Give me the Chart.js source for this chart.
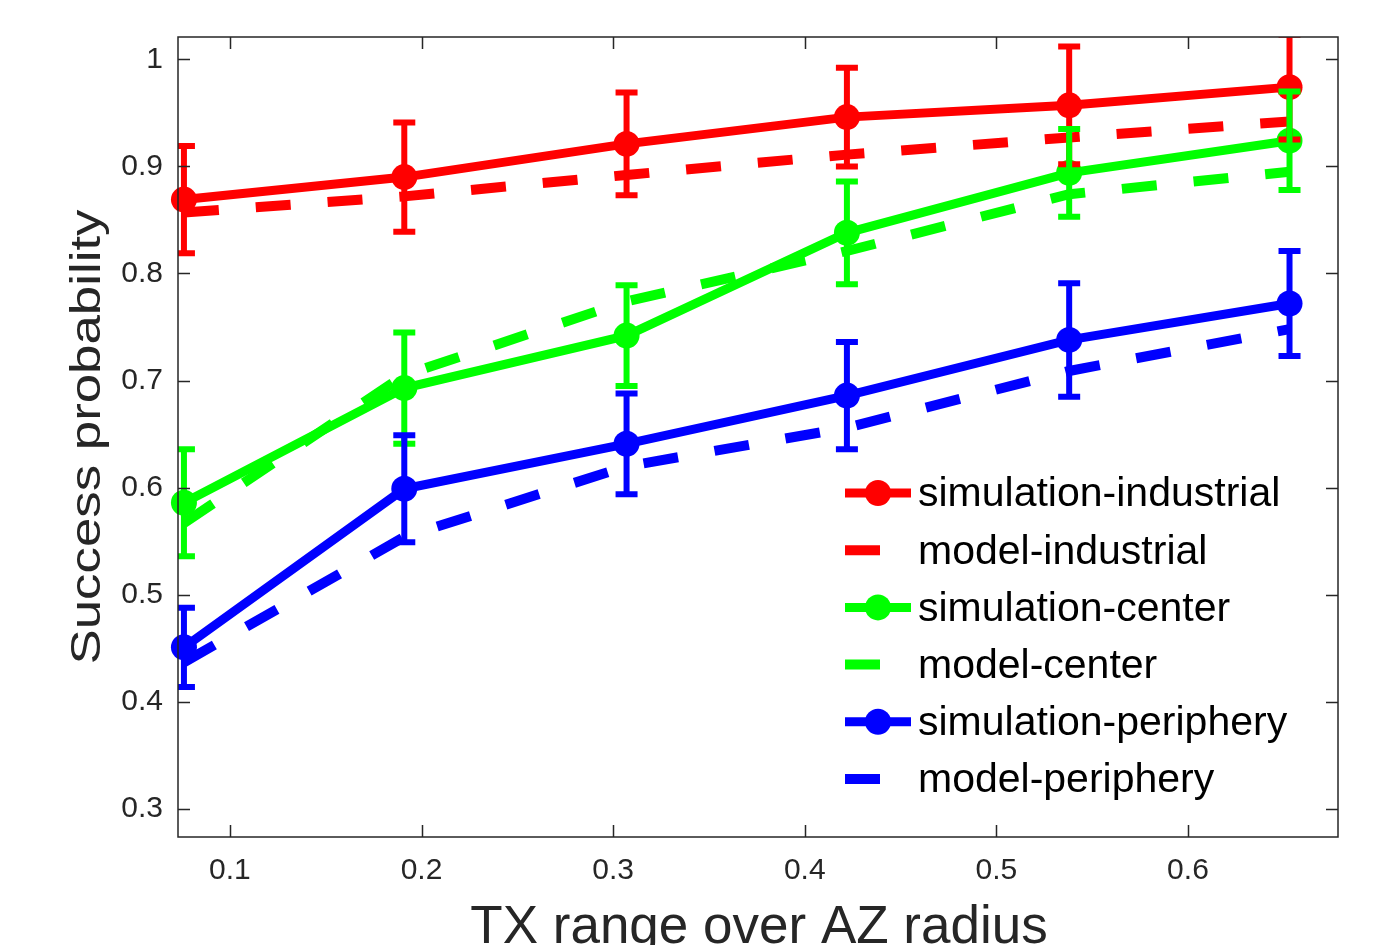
<!DOCTYPE html>
<html>
<head>
<meta charset="utf-8">
<script src="https://cdn.jsdelivr.net/npm/chart.js@4.4.1/dist/chart.umd.min.js"></script>
<style>
  html, body { margin: 0; padding: 0; background: #fff; overflow: hidden; }
  #wrap { width: 1385px; height: 945px; }
</style>
</head>
<body>
<div id="wrap"><canvas id="grafico" width="1385" height="945"></canvas></div>
<script>
// valores
const txRange = [0.076, 0.191, 0.307, 0.422, 0.538, 0.653];

const simIndustrial   = [0.869, 0.890, 0.921, 0.946, 0.957, 0.974];
const errIndustrial   = [0.050, 0.051, 0.048, 0.046, 0.055, 0.049];
const modelIndustrial = [0.857, 0.872, 0.892, 0.911, 0.927, 0.942];

const simCenter   = [0.586, 0.693, 0.742, 0.838, 0.894, 0.924];
const errCenter   = [0.050, 0.052, 0.047, 0.048, 0.041, 0.046];
const modelCenter = [0.567, 0.705, 0.774, 0.821, 0.874, 0.895];

const simPeriphery   = [0.451, 0.599, 0.641, 0.686, 0.738, 0.772];
const errPeriphery   = [0.037, 0.050, 0.047, 0.050, 0.053, 0.049];
const modelPeriphery = [0.437, 0.554, 0.620, 0.656, 0.709, 0.748];

const xTicks = [0.1, 0.2, 0.3, 0.4, 0.5, 0.6];
const yTicks = [0.3, 0.4, 0.5, 0.6, 0.7, 0.8, 0.9, 1.0];

const xTitle = 'TX range over AZ radius';
const yTitle = 'Success probability';

const fontFamily = "'Liberation Sans', Arial, Helvetica, sans-serif";
const axisColor = '#262626';

const toPoints = (values) => values.map((v, i) => ({ x: txRange[i], y: v }));

const simDataset = (label, values, errors, color) => ({
    label: label,
    data: toPoints(values),
    errors: errors,
    borderColor: color,
    backgroundColor: color,
    pointBackgroundColor: color,
    pointBorderColor: color,
    borderWidth: 9,
    pointRadius: 13,
    pointHoverRadius: 13,
    pointBorderWidth: 0,
    tension: 0,
    fill: false,
    clip: false
});

const modelDataset = (label, values, color) => ({
    label: label,
    data: toPoints(values),
    borderColor: color,
    backgroundColor: color,
    borderWidth: 10,
    borderDash: [35, 37],
    borderCapStyle: 'butt',
    pointRadius: 0,
    tension: 0,
    fill: false,
    clip: false
});

const datasets = [
    simDataset('simulation-industrial', simIndustrial, errIndustrial, '#FF0000'),
    modelDataset('model-industrial', modelIndustrial, '#FF0000'),
    simDataset('simulation-center', simCenter, errCenter, '#00FF00'),
    modelDataset('model-center', modelCenter, '#00FF00'),
    simDataset('simulation-periphery', simPeriphery, errPeriphery, '#0000FF'),
    modelDataset('model-periphery', modelPeriphery, '#0000FF')
];
// estilo matlab: o ultimo desenhado fica por cima
datasets.forEach((ds, i) => { ds.order = datasets.length - i; });

// barras de erro, caixa, ticks para dentro, legenda e titulos
const matlabAxes = {
    id: 'matlabAxes',
    afterDatasetsDraw(chart) {
        const { ctx, chartArea: a, scales: { x, y } } = chart;
        ctx.save();
        ctx.beginPath();
        ctx.rect(a.left, a.top, a.right - a.left, a.bottom - a.top);
        ctx.clip();
        chart.data.datasets.forEach(ds => {
            if (!ds.errors) return;
            ctx.strokeStyle = ds.borderColor;
            ctx.lineWidth = 6;
            ctx.lineCap = 'butt';
            ds.data.forEach((p, i) => {
                const px = x.getPixelForValue(p.x);
                const top = y.getPixelForValue(p.y + ds.errors[i]);
                const bot = y.getPixelForValue(p.y - ds.errors[i]);
                ctx.beginPath();
                ctx.moveTo(px, top); ctx.lineTo(px, bot);
                ctx.moveTo(px - 11, top); ctx.lineTo(px + 11, top);
                ctx.moveTo(px - 11, bot); ctx.lineTo(px + 11, bot);
                ctx.stroke();
            });
        });
        ctx.restore();
    },
    afterDraw(chart) {
        const { ctx, chartArea: a, scales: { x, y } } = chart;
        const tick = 12;
        ctx.save();

        // caixa
        ctx.strokeStyle = axisColor;
        ctx.lineWidth = 1.5;
        ctx.strokeRect(a.left, a.top, a.right - a.left, a.bottom - a.top);

        ctx.beginPath();
        xTicks.forEach(v => {
            const px = Math.round(x.getPixelForValue(v)) + 0.5;
            ctx.moveTo(px, a.bottom); ctx.lineTo(px, a.bottom - tick);
            ctx.moveTo(px, a.top); ctx.lineTo(px, a.top + tick);
        });
        yTicks.forEach(v => {
            const py = Math.round(y.getPixelForValue(v)) + 0.5;
            ctx.moveTo(a.left, py); ctx.lineTo(a.left + tick, py);
            ctx.moveTo(a.right, py); ctx.lineTo(a.right - tick, py);
        });
        ctx.stroke();

        // legenda
        const rowY = 494, rowStep = 57.2;
        const symLeft = 845, symRight = 911, dashRight = 880, markX = 878, textX = 918;
        ctx.font = '41px ' + fontFamily;
        ctx.textAlign = 'left';
        ctx.textBaseline = 'middle';
        chart.data.datasets.forEach((ds, i) => {
            const cy = rowY + i * rowStep;
            ctx.strokeStyle = ds.borderColor;
            ctx.fillStyle = ds.borderColor;
            ctx.lineCap = 'butt';
            ctx.beginPath();
            if (ds.errors) {
                ctx.lineWidth = 9;
                ctx.moveTo(symLeft, cy - 1); ctx.lineTo(symRight, cy - 1);
                ctx.stroke();
                ctx.beginPath();
                ctx.arc(markX, cy - 1, 13, 0, Math.PI * 2);
                ctx.fill();
            } else {
                ctx.lineWidth = 10;
                ctx.moveTo(symLeft, cy - 1); ctx.lineTo(dashRight, cy - 1);
                ctx.stroke();
            }
            ctx.fillStyle = '#000';
            ctx.fillText(ds.label, textX, cy + 1);
        });

        // titulos dos eixos
        ctx.fillStyle = axisColor;
        ctx.font = '53px ' + fontFamily;
        ctx.textAlign = 'center';
        ctx.textBaseline = 'alphabetic';
        ctx.fillText(xTitle, (a.left + a.right) / 2 + 1, 943);

        ctx.font = '42px ' + fontFamily;
        const w = ctx.measureText(yTitle).width;
        ctx.translate(100, (a.top + a.bottom) / 2);
        ctx.rotate(-Math.PI / 2);
        ctx.scale(455 / w, 1);
        ctx.fillText(yTitle, 0, 0);
        ctx.restore();
    }
};

const tickFont = { family: fontFamily, size: 30 };

const ctx = document.getElementById('grafico').getContext('2d');
const myChart = new Chart(ctx, {
    type: 'line',
    data: { datasets: datasets },
    options: {
        responsive: false,
        animation: false,
        layout: { padding: { top: 37, right: 47, left: 0, bottom: 0 } },
        plugins: {
            legend: { display: false },
            tooltip: { enabled: false }
        },
        scales: {
            x: {
                type: 'linear',
                min: 0.0729,
                max: 0.6783,
                afterBuildTicks: (scale) => { scale.ticks = xTicks.map(v => ({ value: v })); },
                afterFit: (scale) => { scale.height = 108; },
                ticks: {
                    color: axisColor,
                    font: tickFont,
                    padding: 16,
                    maxRotation: 0,
                    callback: (v) => String(+v.toFixed(1))
                },
                grid: { display: false, drawTicks: false },
                border: { display: false }
            },
            y: {
                type: 'linear',
                min: 0.2739,
                max: 1.0208,
                afterBuildTicks: (scale) => { scale.ticks = yTicks.map(v => ({ value: v })); },
                afterFit: (scale) => { scale.width = 178; },
                ticks: {
                    color: axisColor,
                    font: tickFont,
                    padding: 15,
                    callback: (v) => String(+v.toFixed(1))
                },
                grid: { display: false, drawTicks: false },
                border: { display: false }
            }
        }
    },
    plugins: [matlabAxes]
});
</script>
</body>
</html>
